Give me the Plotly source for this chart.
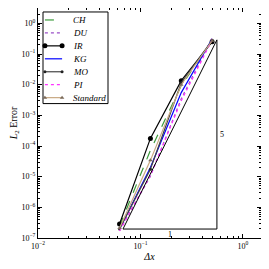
import numpy as np
import plotly.graph_objects as go

dx = [0.0625, 0.125, 0.25, 0.5]
ch = [2.45e-7, 7.2e-5, 9.3e-3, 0.27]
du = [1.8e-7, 1.03e-5, 3.5e-3, 0.335]
ir = [2.85e-7, 1.77e-4, 1.35e-2, 0.25]
kg = [1.96e-7, 2.0e-5, 5.5e-3, 0.31]
mo = [1.96e-7, 1.74e-5, 1.16e-2, 0.28]
pi_ = [1.69e-7, 1.1e-5, 3.0e-3, 0.29]
std = [2.1e-7, 3.4e-5, 1.0e-2, 0.27]

tri_x = [0.0675, 0.557, 0.557, 0.0675]
tri_y = [1.96e-7, 1.96e-7, 0.289, 1.96e-7]
run_label = "1"
rise_label = "5"

names = ["CH", "DU", "IR", "KG", "MO", "PI", "Standard"]

x_tickvals = [1e-2, 1e-1, 1e0]
x_ticktext = ["10<sup>−2</sup>", "10<sup>−1</sup>", "10<sup>0</sup>"]
y_tickvals = [1e-7, 1e-6, 1e-5, 1e-4, 1e-3, 1e-2, 1e-1, 1e0]
y_ticktext = ["10<sup>−7</sup>", "10<sup>−6</sup>", "10<sup>−5</sup>", "10<sup>−4</sup>",
              "10<sup>−3</sup>", "10<sup>−2</sup>", "10<sup>−1</sup>", "10<sup>0</sup>"]

SERIF = "Liberation Serif"
fig = go.Figure()

styles = [
    (ch, dict(color="#3a9a3a", width=1.2, dash="dash"), None),
    (du, dict(color="#9a4fc8", width=1.2, dash="dot"), None),
    (ir, dict(color="black", width=1.2), dict(symbol="circle", size=5, color="black")),
    (kg, dict(color="#0000ff", width=1.2), None),
    (mo, dict(color="#444444", width=1.2), dict(symbol="circle", size=3, color="#222222")),
    (pi_, dict(color="#ff33ff", width=1.2, dash="dot"), None),
    (std, dict(color="#c8a882", width=1.2), dict(symbol="triangle-up", size=4, color="#7a6a5a")),
]
for name, (ys, line, marker) in zip(names, styles):
    kw = dict(x=dx, y=ys, name=name, line=line, showlegend=False)
    if marker:
        kw["mode"] = "lines+markers"
        kw["marker"] = marker
    else:
        kw["mode"] = "lines"
    fig.add_trace(go.Scatter(**kw))

fig.add_trace(go.Scatter(x=tri_x, y=tri_y, mode="lines", showlegend=False,
                         line=dict(color="black", width=1)))

fig.add_annotation(x=np.log10(np.sqrt(tri_x[0] * tri_x[1])), y=np.log10(tri_y[0]),
                   text=run_label, showarrow=False, yshift=-5,
                   font=dict(family=SERIF, size=8, color="black"))
fig.add_annotation(x=np.log10(tri_x[1]), y=np.log10(np.sqrt(tri_y[0] * tri_y[2])),
                   text=rise_label, showarrow=False, xshift=5,
                   font=dict(family=SERIF, size=8, color="black"))

# Manual legend drawn on an overlay axis spanning the plot area (0..1)
leg_x0, leg_x1 = 0.0224, 0.3139
leg_ytop, leg_ybot = 0.9827, 0.5844
fig.add_shape(type="rect", xref="x2", yref="y2", x0=leg_x0, x1=leg_x1, y0=leg_ybot, y1=leg_ytop,
              line=dict(color="black", width=1), fillcolor="white", layer="below")
first_y, step = 0.948, 0.0563
samp_x = [0.031, 0.108]
for i, (name, (ys, line, marker)) in enumerate(zip(names, styles)):
    yy = first_y - i * step
    kw = dict(x=samp_x, y=[yy, yy], xaxis="x2", yaxis="y2", showlegend=False,
              line=line, hoverinfo="skip")
    if marker:
        kw["mode"] = "lines+markers"
        kw["marker"] = marker
    else:
        kw["mode"] = "lines"
    fig.add_trace(go.Scatter(**kw))
    fig.add_annotation(xref="x2", yref="y2", x=0.15, y=yy, text="<i>%s</i>" % name,
                       showarrow=False, xanchor="left", yanchor="middle",
                       font=dict(family=SERIF, size=9, color="black"))

xminor = [k * 10.0 ** e for e in (-2, -1, 0) for k in range(2, 10)]
yminor = [k * 10.0 ** e for e in range(-7, 1) for k in range(2, 10)]

fig.update_layout(
    xaxis=dict(type="log", range=[-2, np.log10(1.5)], tickvals=x_tickvals, ticktext=x_ticktext,
               ticks="inside", ticklen=4, tickcolor="black", showline=True, linecolor="black",
               linewidth=1, mirror="allticks", showgrid=False, zeroline=False, automargin=False,
               tickfont=dict(family=SERIF, size=8, color="black"),
               minor=dict(tickvals=xminor, ticks="inside", ticklen=2, tickcolor="black", showgrid=False),
               title=dict(text="<i>Δx</i>", font=dict(family=SERIF, size=10, color="black"), standoff=0)),
    yaxis=dict(type="log", range=[-7, 0.5], tickvals=y_tickvals, ticktext=y_ticktext,
               ticks="inside", ticklen=4, tickcolor="black", showline=True, linecolor="black",
               linewidth=1, mirror="allticks", showgrid=False, zeroline=False, automargin=False,
               tickfont=dict(family=SERIF, size=8, color="black"),
               minor=dict(tickvals=yminor, ticks="inside", ticklen=2, tickcolor="black", showgrid=False),
               title=dict(text="<i>L</i><sub>2</sub> Error", font=dict(family=SERIF, size=10, color="black"), standoff=2)),
    xaxis2=dict(overlaying="x", range=[0, 1], visible=False, anchor="y2", fixedrange=True),
    yaxis2=dict(overlaying="y", range=[0, 1], visible=False, anchor="x2", fixedrange=True),
    width=261, height=261,
    margin=dict(l=30, r=8, t=0, b=31),
    paper_bgcolor="white", plot_bgcolor="white",
    showlegend=False,
)

fig.write_html("out.html")
